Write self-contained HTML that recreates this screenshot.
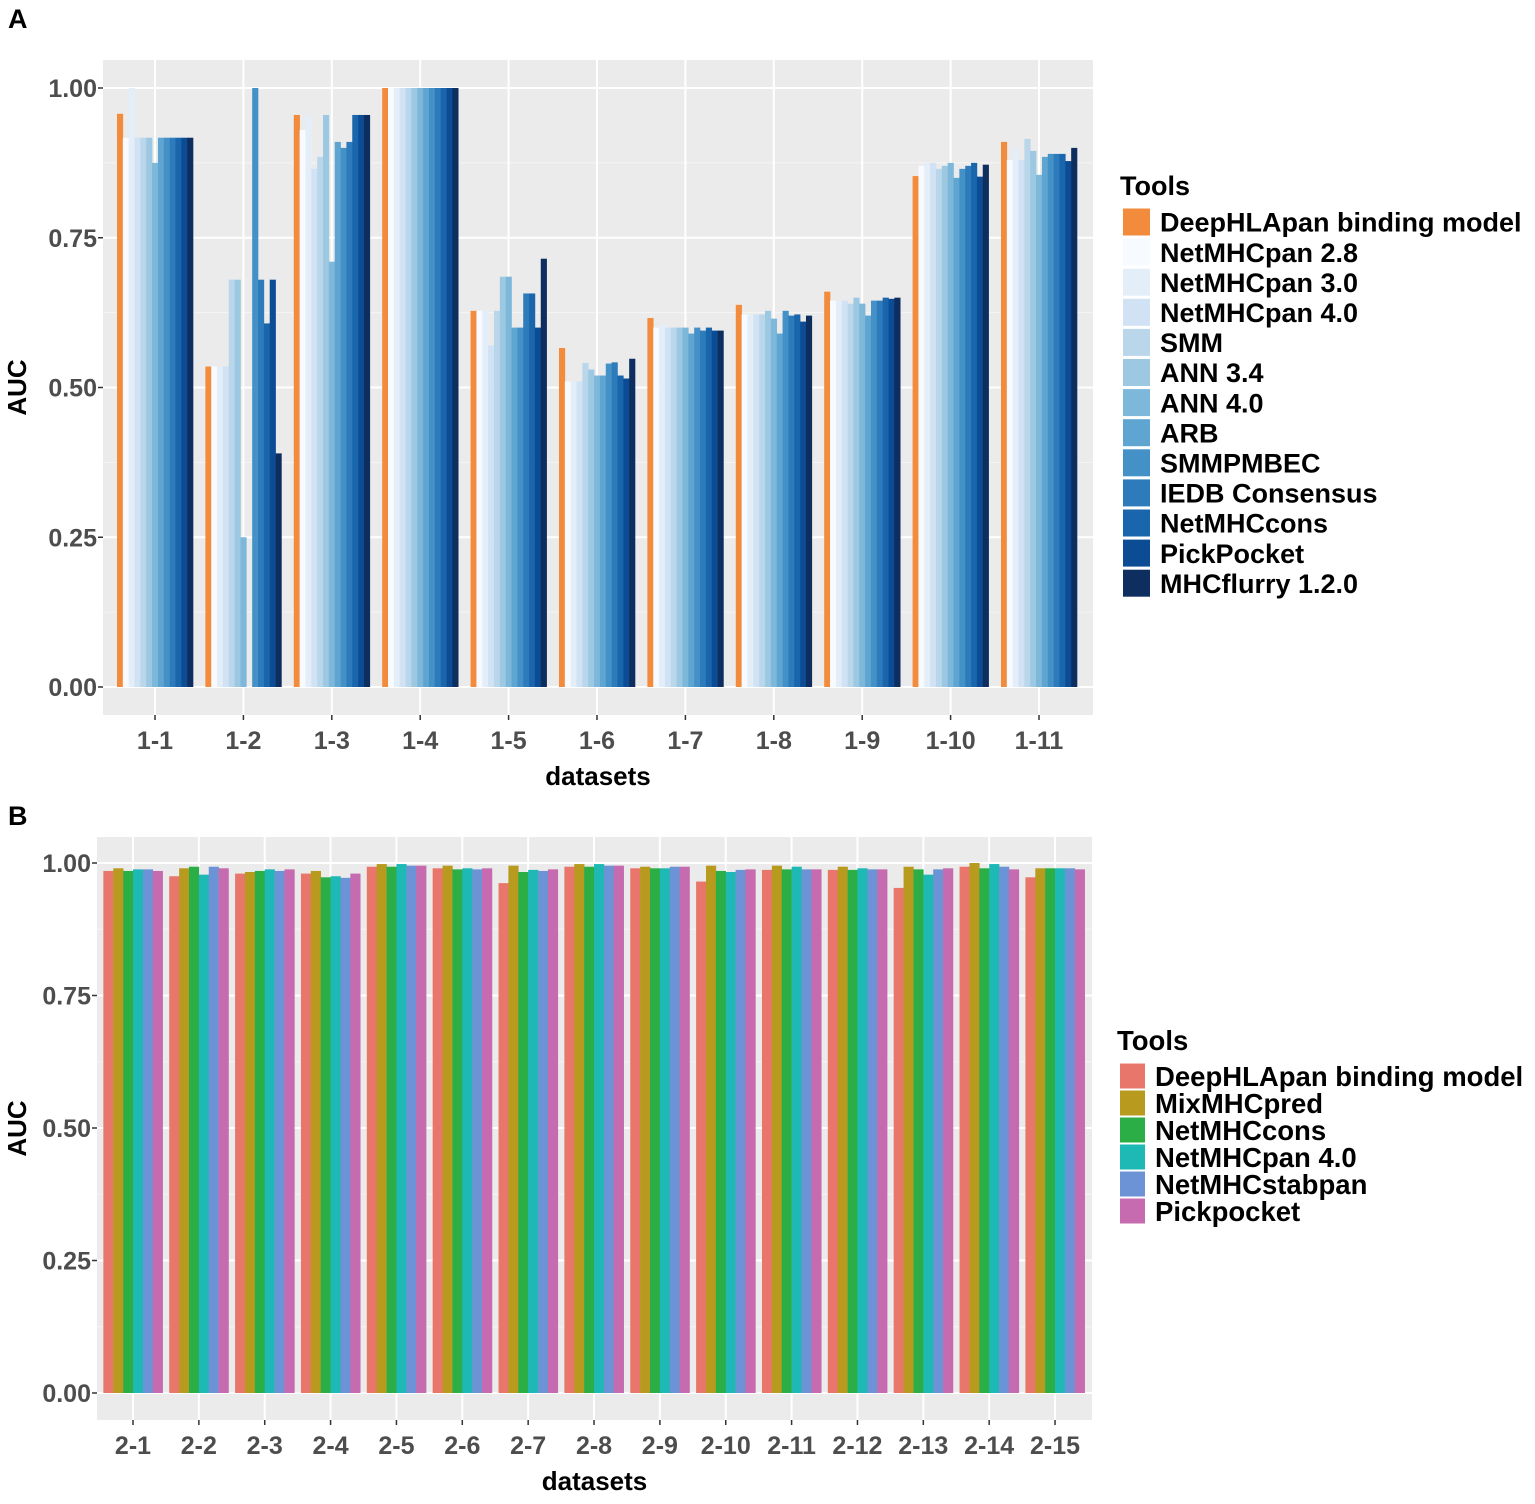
<!DOCTYPE html>
<html><head><meta charset="utf-8"><style>
body{margin:0;background:#fff;}
svg{display:block;font-family:"Liberation Sans",Arial,sans-serif;font-weight:bold;}
</style></head><body>
<svg id="chart" width="1535" height="1504" viewBox="0 0 1535 1504" xmlns="http://www.w3.org/2000/svg">
<text x="8" y="28" font-size="27" fill="#000">A</text>
<text x="8" y="825" font-size="27" fill="#000">B</text>
<g id="pa"></g>
<g id="pb"></g>
</svg>
<script>
const catsA = ["1-1","1-2","1-3","1-4","1-5","1-6","1-7","1-8","1-9","1-10","1-11"];
const toolsA = ["DeepHLApan binding model","NetMHCpan 2.8","NetMHCpan 3.0","NetMHCpan 4.0","SMM","ANN 3.4","ANN 4.0","ARB","SMMPMBEC","IEDB Consensus","NetMHCcons","PickPocket","MHCflurry 1.2.0"];
const colorsA = ["#F28C3C","#F7FBFF","#E3EEF9","#D0E2F3","#B9D6EB","#9CC9E1","#7DB7DA","#5FA5D1","#4391C6","#2D7BBA","#1A66AC","#0C4C94","#0E2E60"];
const valsA = [
 [0.957,0.917,1.0,0.917,0.917,0.917,0.875,0.917,0.917,0.917,0.917,0.917,0.917],
 [0.535,0.535,0.535,0.535,0.68,0.68,0.25,0,1.0,0.68,0.607,0.68,0.39],
 [0.955,0.93,0.955,0.865,0.885,0.955,0.71,0.91,0.90,0.91,0.955,0.955,0.955],
 [1,1,1,1,1,1,1,1,1,1,1,1,1],
 [0.628,0.628,0.628,0.57,0.628,0.685,0.685,0.60,0.60,0.657,0.657,0.60,0.715],
 [0.566,0.51,0.51,0.51,0.541,0.53,0.52,0.52,0.54,0.542,0.52,0.515,0.548],
 [0.616,0.60,0.605,0.60,0.60,0.60,0.60,0.59,0.60,0.595,0.60,0.595,0.595],
 [0.638,0.622,0.622,0.622,0.622,0.628,0.615,0.59,0.628,0.62,0.622,0.61,0.62],
 [0.66,0.645,0.645,0.645,0.64,0.65,0.64,0.62,0.645,0.645,0.65,0.648,0.65],
 [0.853,0.87,0.875,0.875,0.865,0.87,0.875,0.85,0.865,0.87,0.875,0.852,0.872],
 [0.91,0.88,0.9,0.88,0.915,0.895,0.855,0.885,0.89,0.89,0.89,0.878,0.90]
];
const catsB = ["2-1","2-2","2-3","2-4","2-5","2-6","2-7","2-8","2-9","2-10","2-11","2-12","2-13","2-14","2-15"];
const toolsB = ["DeepHLApan binding model","MixMHCpred","NetMHCcons","NetMHCpan 4.0","NetMHCstabpan","Pickpocket"];
const colorsB = ["#E8766B","#B89B1E","#2BAE45","#1EB9B5","#6C93D6","#C76BB0"];
const valsB = [
 [0.985,0.99,0.985,0.988,0.988,0.985],
 [0.975,0.99,0.993,0.978,0.993,0.99],
 [0.98,0.983,0.985,0.988,0.985,0.988],
 [0.98,0.985,0.973,0.975,0.972,0.98],
 [0.993,0.998,0.993,0.998,0.995,0.995],
 [0.99,0.995,0.988,0.99,0.988,0.99],
 [0.962,0.995,0.983,0.987,0.985,0.988],
 [0.993,0.998,0.993,0.998,0.995,0.995],
 [0.99,0.993,0.99,0.99,0.993,0.993],
 [0.965,0.995,0.985,0.983,0.987,0.988],
 [0.987,0.995,0.988,0.993,0.988,0.988],
 [0.987,0.993,0.987,0.99,0.988,0.988],
 [0.953,0.993,0.988,0.978,0.988,0.99],
 [0.993,1.0,0.99,0.998,0.993,0.988],
 [0.973,0.99,0.99,0.99,0.99,0.988]
];
const yTicks = [0,0.25,0.5,0.75,1.0];
const yTickLabels = ["0.00","0.25","0.50","0.75","1.00"];
const NS="http://www.w3.org/2000/svg";
function mk(parent,tag,attrs,text){const e=document.createElementNS(NS,tag);for(const k in attrs)e.setAttribute(k,attrs[k]);if(text!==undefined)e.textContent=text;parent.appendChild(e);return e;}

function panel(g,cfg,cats,tools,colors,vals,pfx){
  const y=v=>cfg.y0-(cfg.y0-cfg.y1)*v;
  const step=cfg.step;
  const x=i=>cfg.x0+step*i;
  const bg=mk(g,'rect',{x:cfg.left,y:cfg.top,width:cfg.right-cfg.left,height:cfg.bottom-cfg.top,fill:'#EBEBEB'});
  
  
  for(let i=0;i<yTicks.length-1;i++){const v=(yTicks[i]+yTicks[i+1])/2;mk(g,'line',{x1:cfg.left,x2:cfg.right,y1:y(v),y2:y(v),stroke:'#F5F5F5','stroke-width':1});}
  yTicks.forEach((t,i)=>{
    mk(g,'line',{x1:cfg.left,x2:cfg.right,y1:y(t),y2:y(t),stroke:'#fff','stroke-width':2});
    mk(g,'line',{x1:cfg.left-5,x2:cfg.left,y1:y(t),y2:y(t),stroke:'#333','stroke-width':1.5});
    const tl=mk(g,'text',{x:cfg.left-6,y:y(t)+9,'font-size':cfg.fs,'text-anchor':'end',fill:'#4D4D4D'},yTickLabels[i]);
    
    
  });
  const bw=step*cfg.bwf/tools.length;
  cats.forEach((c,i)=>{
    mk(g,'line',{x1:x(i),x2:x(i),y1:cfg.top,y2:cfg.bottom,stroke:'#fff','stroke-width':2});
    mk(g,'line',{x1:x(i),x2:x(i),y1:cfg.bottom,y2:cfg.bottom+5,stroke:'#333','stroke-width':1.5});
    const tl=mk(g,'text',{x:x(i),y:cfg.bottom+34,'font-size':cfg.fs,'text-anchor':'middle',fill:'#4D4D4D'},c);
    
    
    vals[i].forEach((v,j)=>{
      const bx=x(i)-step*cfg.bwf/2+j*bw;
      const r=mk(g,'rect',{x:bx,y:y(v),width:bw+0.3,height:y(0)-y(v),fill:colors[j]});
      
      
    });
  });
  const xt=mk(g,'text',{x:(cfg.left+cfg.right)/2,y:cfg.bottom+70,'font-size':cfg.fs+1,'text-anchor':'middle',fill:'#000'},'datasets');
  
  
  const cy=(cfg.top+cfg.bottom)/2;
  const yt=mk(g,'text',{x:26,y:cy,'font-size':cfg.fs+1,'text-anchor':'middle',fill:'#000',transform:`rotate(-90 26 ${cy})`},'AUC');
  
  
  const lt=mk(g,'text',{x:cfg.lx-3,y:cfg.ly,'font-size':cfg.lfs,fill:'#000'},'Tools');
  
  
  tools.forEach((t,j)=>{
    const ry=cfg.ly+cfg.lstart+j*cfg.lsp;
    const k=mk(g,'rect',{x:cfg.lx,y:ry-cfg.lk/2,width:cfg.lk,height:cfg.lk,fill:colors[j]});
    
    
    const tx=mk(g,'text',{x:cfg.lx+cfg.lk+10,y:ry+cfg.lfs*0.36,'font-size':cfg.lfs,fill:'#000'},t);
    
    
  });
}
panel(document.getElementById('pa'),{left:103,right:1093,top:60,bottom:715,y0:687,y1:88,x0:155,step:88.4,bwf:0.86,fs:25,lx:1123,ly:195,lfs:27,lstart:27,lsp:30.1,lk:27},catsA,toolsA,colorsA,valsA,'a');
panel(document.getElementById('pb'),{left:97,right:1092,top:837,bottom:1420,y0:1393,y1:863,x0:133,step:65.86,bwf:0.9,fs:25,lx:1120,ly:1050,lfs:27.5,lstart:26,lsp:27,lk:25},catsB,toolsB,colorsB,valsB,'b');
</script>
</body></html>
